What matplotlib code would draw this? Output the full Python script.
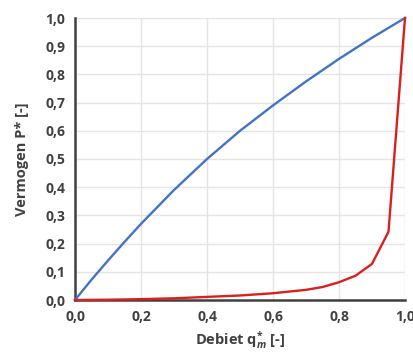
import matplotlib
matplotlib.use("Agg")
import matplotlib.pyplot as plt
from matplotlib.ticker import FuncFormatter, MultipleLocator

q_blue = [0.0, 0.05, 0.1, 0.15, 0.2, 0.3, 0.4, 0.5, 0.6, 0.7, 0.8, 0.9, 1.0]
p_blue = [0.0, 0.072, 0.14, 0.206, 0.27, 0.39, 0.5, 0.6, 0.69, 0.775, 0.855, 0.93, 1.0]

q_red = [0.0, 0.1, 0.2, 0.3, 0.4, 0.5, 0.6, 0.7, 0.75, 0.8, 0.85, 0.9, 0.95, 1.0]
p_red = [0.0, 0.001, 0.003, 0.006, 0.011, 0.016, 0.024, 0.036, 0.046, 0.063, 0.086, 0.128, 0.242, 1.0]

xlabel = "Debiet q$^{*}_{m}$ [-]"
ylabel = "Vermogen P* [-]"

plt.rcParams['font.family'] = ['Open Sans', 'DejaVu Sans']
plt.rcParams['mathtext.fontset'] = 'custom'
plt.rcParams['mathtext.rm'] = 'Open Sans:bold'
plt.rcParams['mathtext.it'] = 'Open Sans:italic:bold'

fig = plt.figure(figsize=(4.13, 3.53), dpi=100)
ax = fig.add_axes([75/413, 53/353, 330/413, 282/353])

ax.plot(q_blue, p_blue, color="#4472C4", lw=1.7, zorder=3, clip_on=False)
ax.plot(q_red, p_red, color="#D9201E", lw=1.7, zorder=4, clip_on=False)

ax.set_xlim(0, 1)
ax.set_ylim(0, 1)
ax.xaxis.set_major_locator(MultipleLocator(0.2))
ax.yaxis.set_major_locator(MultipleLocator(0.1))
fmt = FuncFormatter(lambda v, p: f"{v:.1f}".replace(".", ","))
ax.xaxis.set_major_formatter(fmt)
ax.yaxis.set_major_formatter(fmt)

ax.grid(True, color="#e4e4e4", lw=1.0)
ax.set_axisbelow(True)
for s in ["top", "right"]:
    ax.spines[s].set_visible(False)
for s in ["left", "bottom"]:
    ax.spines[s].set_color("#404040")
    ax.spines[s].set_linewidth(1.8)
ax.tick_params(length=0, pad=7, labelsize=10, colors="#404040")
for lab in ax.get_xticklabels() + ax.get_yticklabels():
    lab.set_fontweight("bold")

ax.set_xlabel(xlabel, fontsize=10.5, fontweight="bold", color="#404040", labelpad=4)
ax.set_ylabel(ylabel, fontsize=10.5, fontweight="bold", color="#404040", labelpad=12)

fig.savefig("out.png", dpi=100)
